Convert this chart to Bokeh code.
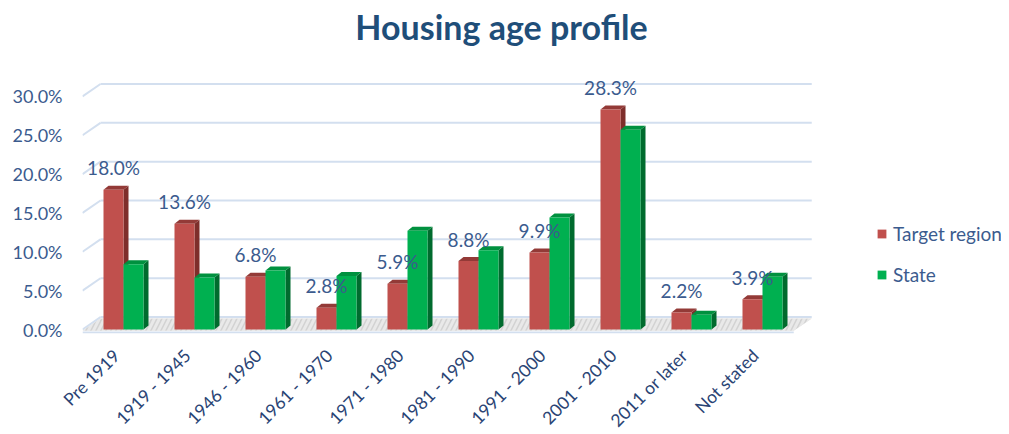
import math
from bokeh.plotting import figure
from bokeh.models import (Range1d, FixedTicker, CustomJSTickFormatter, PrintfTickFormatter,
                          Legend, LegendItem, ColumnDataSource)
from bokeh.embed import file_html
from bokeh.resources import INLINE

# ---------------- data ----------------
categories = ["Pre 1919", "1919 - 1945", "1946 - 1960", "1961 - 1970", "1971 - 1980",
              "1981 - 1990", "1991 - 2000", "2001 - 2010", "2011 or later", "Not stated"]
target_region = [18.0, 13.6, 6.8, 2.8, 5.9, 8.8, 9.9, 28.3, 2.2, 3.9]
state = [8.4, 6.7, 7.6, 6.9, 12.7, 10.2, 14.4, 25.7, 1.9, 6.8]
y_ticks = [0, 5, 10, 15, 20, 25, 30]
series_names = ["Target region", "State"]
title_text = "Housing age profile"

# ---------------- styling / geometry ----------------
FONT = "Lato"
PX_X = 71.0          # px per category
PX_Y = 7.77          # px per percent
FRAME_W, FRAME_H = 919, 333
ZERO_PX = 329        # screen y of value 0 (from top)
x_start = -41 / PX_X
y_start = -(FRAME_H - ZERO_PX) / PX_Y
BAR_W = 20 / PX_X
DX, DY = 5 / PX_X, 4 / PX_Y           # bar depth
WALL_DX, WALL_DY = 18 / PX_X, 1.6      # back wall offset
LABEL_SHIFT = 0.1
n = len(categories)
floor_right = (n - 1) + 0.44
# title position (screen px converted to data units)
TITLE_X = x_start + (501 - 82) / PX_X
TITLE_Y = (ZERO_PX - 26) / PX_Y

RED, RED_TOP, RED_SIDE = "#C0504D", "#933A37", "#7E2E2B"
GRN, GRN_TOP, GRN_SIDE = "#00B050", "#00913F", "#006B2E"
GRID = "#D3DFEF"
TXT = "#3B5B8E"

p = figure(frame_width=FRAME_W, frame_height=FRAME_H, output_backend="svg", toolbar_location=None,
           x_range=Range1d(x_start, x_start + FRAME_W / PX_X),
           y_range=Range1d(y_start, y_start + FRAME_H / PX_Y),
           min_border_left=82, min_border_right=0, min_border_top=0, min_border_bottom=100,
           outline_line_color=None, background_fill_color="white", border_fill_color="white")

p.xgrid.visible = False
p.ygrid.visible = False

# title
p.text(x=[TITLE_X], y=[TITLE_Y], text=[title_text], text_align="center",
       text_baseline="alphabetic", text_font={"value": FONT}, text_font_size="34px",
       text_font_style="bold", text_color="#1F4E79")

# back wall gridlines (diagonal + horizontal)
gx0 = [x_start] * len(y_ticks)
gx1 = [x_start + WALL_DX] * len(y_ticks)
gy1 = [v + WALL_DY for v in y_ticks]
p.segment(x0=gx0, y0=y_ticks, x1=gx1, y1=gy1, line_color=GRID, line_width=2)
p.segment(x0=gx1, y0=gy1, x1=[floor_right + WALL_DX] * len(y_ticks), y1=gy1,
          line_color=GRID, line_width=2)

# floor
p.patch(x=[x_start, floor_right, floor_right + WALL_DX, x_start + WALL_DX],
        y=[-0.15, -0.15, 1.4, 1.4], fill_color="#D2D2D2", line_color=None,
        hatch_pattern="/", hatch_color="white", hatch_alpha=0.5, hatch_scale=10, hatch_weight=3)
# front edge line
p.segment(x0=[x_start], y0=[-0.39], x1=[floor_right], y1=[-0.39], line_color=GRID, line_width=2)


def draw_series(vals, offset, front, top, side):
    xs = [i + offset for i in range(n)]
    xl = [x - BAR_W / 2 for x in xs]
    xr = [x + BAR_W / 2 for x in xs]
    sides_x = [[r, r + DX, r + DX, r] for r in xr]
    sides_y = [[0, DY, v + DY, v] for v in vals]
    tops_x = [[l, l + DX, r + DX, r] for l, r in zip(xl, xr)]
    tops_y = [[v, v + DY, v + DY, v] for v in vals]
    p.patches(xs=sides_x, ys=sides_y, fill_color=side, line_color=None)
    p.patches(xs=tops_x, ys=tops_y, fill_color=top, line_color=None)
    return p.vbar(x=xs, top=vals, bottom=0, width=BAR_W, fill_color=front, line_color=None)


r_red = draw_series(target_region, -BAR_W / 2, RED, RED_TOP, RED_SIDE)
r_grn = draw_series(state, BAR_W / 2, GRN, GRN_TOP, GRN_SIDE)

# data labels for target region
lab_src = ColumnDataSource(dict(x=[i - BAR_W / 2 for i in range(n)], y=target_region,
                                t=["%.1f%%" % v for v in target_region]))
p.text(x="x", y="y", text="t", source=lab_src, text_align="center", text_baseline="middle",
       y_offset=-22, text_font={"value": FONT}, text_font_size="19px", text_color=TXT)

# y axis
p.yaxis.ticker = FixedTicker(ticks=y_ticks)
p.yaxis.formatter = PrintfTickFormatter(format="%.1f%%")
p.yaxis.axis_line_color = None
p.yaxis.major_tick_line_color = None
p.yaxis.minor_tick_line_color = None
p.yaxis.major_tick_out = 0
p.yaxis.major_label_standoff = 20
p.yaxis.major_label_text_font = FONT
p.yaxis.major_label_text_font_size = "18px"
p.yaxis.major_label_text_color = TXT

# x axis
p.xaxis.ticker = FixedTicker(ticks=[i - LABEL_SHIFT for i in range(n)])
p.xaxis.formatter = CustomJSTickFormatter(args=dict(labels=categories, shift=LABEL_SHIFT),
                                          code="return labels[Math.round(tick + shift)] || '';")
p.xaxis.major_label_orientation = math.pi / 4
p.xaxis.axis_line_color = None
p.xaxis.major_tick_line_color = None
p.xaxis.minor_tick_line_color = None
p.xaxis.major_tick_out = 0
p.xaxis.major_label_standoff = 19
p.xaxis.major_label_text_font = FONT
p.xaxis.major_label_text_font_size = "17.5px"
p.xaxis.major_label_text_color = "#2A4474"

legend = Legend(items=[LegendItem(label=series_names[0], renderers=[r_red]),
                       LegendItem(label=series_names[1], renderers=[r_grn])],
                location=(794, 47), orientation="vertical", glyph_width=11, glyph_height=11,
                label_standoff=6, spacing=18, padding=0, margin=0, border_line_color=None,
                background_fill_alpha=0, label_text_font=FONT, label_text_font_size="19px",
                label_text_color=TXT, label_height=20)
p.add_layout(legend)

open("out.html", "w").write(file_html(p, INLINE))
